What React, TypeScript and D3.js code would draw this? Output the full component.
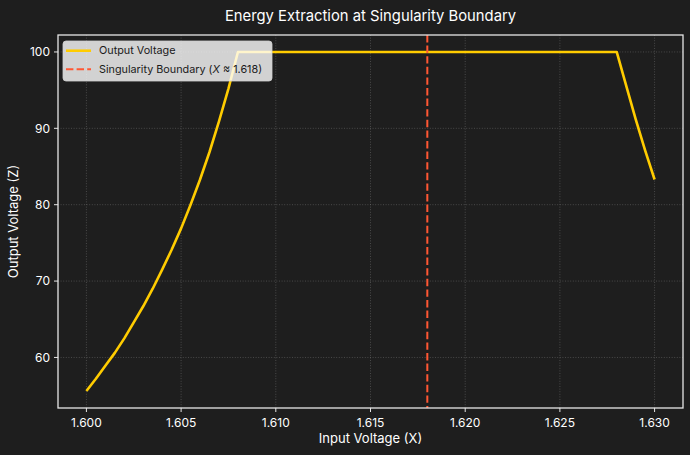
import { useEffect } from "react";
import * as d3 from "d3";

// input voltage samples (X) and output voltage (Z)
const inputX = [
  1.6, 1.6005, 1.601, 1.6015, 1.602, 1.6025, 1.603, 1.6035, 1.604, 1.6045,
  1.605, 1.6055, 1.606, 1.6065, 1.607, 1.6075, 1.608, 1.612, 1.616, 1.62,
  1.624, 1.628, 1.6285, 1.629, 1.6295, 1.63,
];
const outputZ = [
  55.6, 57.2, 58.9, 60.6, 62.5, 64.6, 66.7, 69.0, 71.5, 74.1, 76.9, 80.0, 83.3,
  86.9, 90.9, 95.2, 100, 100, 100, 100, 100, 100, 95.6, 91.2, 87.1, 83.3,
];
const xTicks = [1.6, 1.605, 1.61, 1.615, 1.62, 1.625, 1.63];
const yTicks = [60, 70, 80, 90, 100];
const boundaryX = 1.618;

const W = 690;
const H = 455;
const margin = { top: 35, right: 7, bottom: 47, left: 58 };
const FONT = "Inter, 'Open Sans', sans-serif";

export default function App() {
  useEffect(() => {
    document.body.style.margin = "0";
    document.body.style.background = "#1e1e1e";
  }, []);

  const x = d3
    .scaleLinear()
    .domain([1.5985, 1.6315])
    .range([margin.left, W - margin.right]);
  const y = d3
    .scaleLinear()
    .domain([53.38, 102.22])
    .range([H - margin.bottom, margin.top]);

  const pts = inputX.map((v, i) => [v, outputZ[i]] as [number, number]);
  const line = d3
    .line<[number, number]>()
    .x((d) => x(d[0]))
    .y((d) => y(d[1]));

  const x0 = margin.left;
  const x1 = W - margin.right;
  const y0 = margin.top;
  const y1 = H - margin.bottom;

  return (
    <svg width={W} height={H} style={{ display: "block", fontFamily: FONT }}>
      <rect width={W} height={H} fill="#1e1e1e" />
      <rect x={x0} y={y0} width={x1 - x0} height={y1 - y0} fill="#1e1e1e" />

      {/* grid */}
      <g stroke="#7a7a7a" strokeOpacity={0.6} strokeWidth={0.8} strokeDasharray="1,1.6">
        {xTicks.map((t) => (
          <line key={"gx" + t} x1={x(t)} x2={x(t)} y1={y0} y2={y1} />
        ))}
        {yTicks.map((t) => (
          <line key={"gy" + t} x1={x0} x2={x1} y1={y(t)} y2={y(t)} />
        ))}
      </g>

      {/* data */}
      <path
        d={line(pts) ?? ""}
        fill="none"
        stroke="#ffcc00"
        strokeWidth={2.6}
        strokeLinejoin="round"
      />
      <line
        x1={x(boundaryX)}
        x2={x(boundaryX)}
        y1={y0}
        y2={y1}
        stroke="#ff5733"
        strokeWidth={2}
        strokeDasharray="7.4,3.2"
      />

      {/* spines */}
      <rect
        x={x0}
        y={y0}
        width={x1 - x0}
        height={y1 - y0}
        fill="none"
        stroke="#e6e6e6"
        strokeWidth={1.3}
      />

      {/* ticks */}
      <g fill="#ffffff" fontSize={12}>
        {xTicks.map((t) => (
          <g key={"tx" + t}>
            <line x1={x(t)} x2={x(t)} y1={y1} y2={y1 + 4} stroke="#e6e6e6" />
            <text x={x(t)} y={y1 + 19} textAnchor="middle">
              {d3.format(".3f")(t)}
            </text>
          </g>
        ))}
        {yTicks.map((t) => (
          <g key={"ty" + t}>
            <line x1={x0 - 4} x2={x0} y1={y(t)} y2={y(t)} stroke="#e6e6e6" />
            <text x={x0 - 8} y={y(t)} dy="0.35em" textAnchor="end">
              {t}
            </text>
          </g>
        ))}
      </g>

      {/* labels */}
      <text x={(x0 + x1) / 2} y={21} textAnchor="middle" fill="#ffffff" fontSize={14.8}>
        Energy Extraction at Singularity Boundary
      </text>
      <text x={(x0 + x1) / 2} y={443} textAnchor="middle" fill="#ffffff" fontSize={13}>
        Input Voltage (X)
      </text>
      <text
        transform={`translate(18,${(y0 + y1) / 2}) rotate(-90)`}
        textAnchor="middle"
        fill="#ffffff"
        fontSize={13}
      >
        Output Voltage (Z)
      </text>

      {/* legend, semi-transparent like matplotlib's framealpha */}
      <g>
        <rect
          x={63}
          y={41}
          width={209}
          height={40}
          rx={3}
          fill="#ffffff"
          fillOpacity={0.8}
          stroke="#d0d0d0"
          strokeOpacity={0.8}
        />
        <line x1={66} x2={91} y1={50.7} y2={50.7} stroke="#ffcc00" strokeWidth={2.6} />
        <line
          x1={66}
          x2={91}
          y1={69.3}
          y2={69.3}
          stroke="#ff5733"
          strokeWidth={2}
          strokeDasharray="7.4,3.2"
        />
        <text x={99} y={50.7} dy="0.35em" fill="#1a1a1a" fontSize={10.8}>
          Output Voltage
        </text>
        <text x={99} y={69.3} dy="0.35em" fill="#1a1a1a" fontSize={10.8}>
          Singularity Boundary (<tspan fontStyle="italic">X</tspan> ≈ 1.618)
        </text>
      </g>
    </svg>
  );
}
